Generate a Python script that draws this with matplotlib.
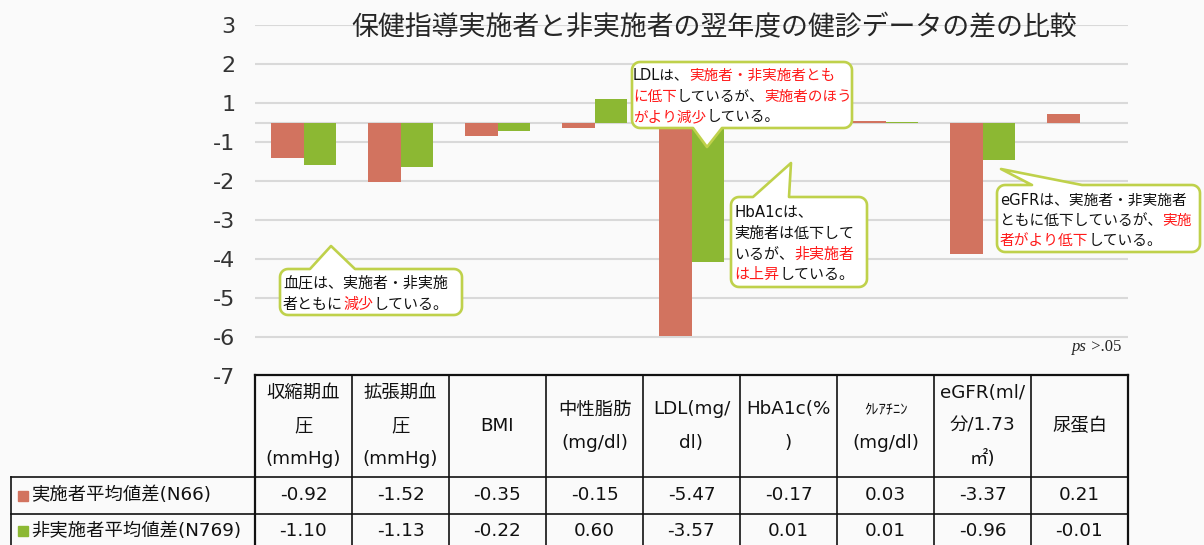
import numpy as np
import matplotlib
matplotlib.use("Agg")
import matplotlib.pyplot as plt
from matplotlib.patches import Polygon, Rectangle

# DejaVu first for the wide Verdana-like latin, CJK glyphs fall through
plt.rcParams['font.family'] = ['DejaVu Sans', 'Noto Sans CJK JP']

# data
title = "保健指導実施者と非実施者の翌年度の健診データの差の比較"
categories = ["収縮期血\n圧\n(mmHg)", "拡張期血\n圧\n(mmHg)", "BMI", "中性脂肪\n(mg/dl)",
              "LDL(mg/\ndl)", "HbA1c(%\n)", "ｸﾚｱﾁﾆﾝ\n(mg/dl)", "eGFR(ml/\n分/1.73\n㎡)", "尿蛋白"]
series_names = ["実施者平均値差(N66)", "非実施者平均値差(N769)"]
implementer = [-0.92, -1.52, -0.35, -0.15, -5.47, -0.17, 0.03, -3.37, 0.21]
non_implementer = [-1.10, -1.13, -0.22, 0.60, -3.57, 0.01, 0.01, -0.96, -0.01]
ytick_labels = ["3", "2", "1", "-1", "-2", "-3", "-4", "-5", "-6", "-7"]

red = "#d2735f"
green = "#8cb833"
hl = "#ff1a1a"
border = "#bfd14b"
bg = "#fafafa"

W, H = 1204, 545
fig = plt.figure(figsize=(W / 100, H / 100), dpi=100, facecolor=bg)

# main chart (pixel box 255..1128 x 25..376)
ax = fig.add_axes([255 / W, 1 - 376 / H, 873 / W, 351 / H])
ax.set_facecolor(bg)
x = np.arange(len(categories))
w = 0.33
ax.bar(x - w / 2, implementer, w, color=red, zorder=2)
ax.bar(x + w / 2, non_implementer, w, color=green, zorder=2)
ax.set_xlim(-0.5, len(categories) - 0.5)
ax.set_ylim(-6.5, 2.5)
ax.set_yticks(np.arange(2.5, -7, -1))
ax.set_yticklabels(ytick_labels)
ax.set_xticks([])
ax.tick_params(axis='y', length=0, pad=14, labelsize=16, labelcolor="#333333")
ax.yaxis.grid(True, color="#d9d9d9", lw=1.5)
ax.axhline(0, color="#d9d9d9", lw=1.5, zorder=1)
ax.set_axisbelow(True)
for s in ax.spines.values():
    s.set_visible(False)

# overlay in pixel coordinates
ov = fig.add_axes([0, 0, 1, 1], zorder=5)
ov.set_xlim(0, W)
ov.set_ylim(H, 0)
ov.axis('off')
ov.patch.set_visible(False)

ov.text(714, 28, title, fontsize=19.4, color="#262626", ha='center', va='center')

# ps > .05
t = ov.text(1072, 347, "ps", fontsize=12, family="Liberation Serif", style='italic',
            color="#222222", ha='left', va='center')
ov.annotate(" >.05", xy=(1, 0), xycoords=t, va='bottom', ha='left', fontsize=12,
            family="Liberation Serif", color="#222222")


def callout(box, edge, base, tip, r=8):
    x0, y0, x1, y1 = box
    pts = []

    def arc(cx, cy, a0, a1):
        for a in np.linspace(np.radians(a0), np.radians(a1), 8):
            pts.append((cx + r * np.cos(a), cy + r * np.sin(a)))

    arc(x0 + r, y0 + r, 180, 270)
    if edge == 'top':
        pts.extend([(base[0], y0), tip, (base[1], y0)])
    arc(x1 - r, y0 + r, 270, 360)
    arc(x1 - r, y1 - r, 0, 90)
    if edge == 'bottom':
        pts.extend([(base[1], y1), tip, (base[0], y1)])
    arc(x0 + r, y1 - r, 90, 180)
    ov.add_patch(Polygon(pts, closed=True, fc='white', ec=border, lw=1.9,
                         joinstyle='round', zorder=5))


def rich_line(xp, yp, parts, size=10.5):
    t = ov.text(xp, yp, parts[0][0], color=parts[0][1], fontsize=size,
                ha='left', va='center', zorder=6)
    for s, c in parts[1:]:
        t = ov.annotate(s, xy=(1, 0), xycoords=t, va='bottom', ha='left',
                        color=c, fontsize=size, zorder=6)


k = "#111111"
# blood pressure
callout((280, 269, 462, 315), 'top', (310, 355), (331, 246))
rich_line(283, 283, [("血圧は、実施者・非実施", k)], 10.8)
rich_line(283, 304, [("者ともに", k), ("減少", hl), ("している。", k)], 10.8)

# LDL
callout((632, 62, 852, 128), 'bottom', (693, 722), (707, 147))
rich_line(633, 75, [("LDLは、", k), ("実施者・非実施者とも", hl)])
rich_line(633, 96, [("に低下", hl), ("しているが、", k), ("実施者のほう", hl)])
rich_line(633, 117, [("がより減少", hl), ("している。", k)])

# HbA1c
callout((731, 197, 867, 287), 'top', (753, 789), (791, 163))
rich_line(734, 212, [("HbA1cは、", k)], 10.8)
rich_line(734, 233, [("実施者は低下して", k)], 10.8)
rich_line(734, 254, [("いるが、", k), ("非実施者", hl)], 10.8)
rich_line(734, 274, [("は上昇", hl), ("している。", k)], 10.8)

# eGFR
callout((997, 185, 1200, 252), 'top', (1032, 1082), (1001, 169))
rich_line(1000, 200, [("eGFRは、実施者・非実施者", k)], 10.6)
rich_line(1000, 220, [("ともに低下しているが、", k), ("実施", hl)], 10.6)
rich_line(1000, 240, [("者がより低下", hl), ("している。", k)], 10.6)

# data table
col_edges = np.linspace(255, 1128, len(categories) + 1)
top, head_bot, row_mid, bot = 375, 477, 514, 551
lc = "#111111"
ov.plot([col_edges[0], col_edges[-1]], [top, top], color=lc, lw=1.6)
ov.plot([11, col_edges[-1]], [head_bot, head_bot], color=lc, lw=1.2)
ov.plot([11, col_edges[-1]], [row_mid, row_mid], color=lc, lw=1.2)
ov.plot([11, col_edges[-1]], [bot, bot], color=lc, lw=1.2)
ov.plot([11, 11], [head_bot, bot], color=lc, lw=1.2)
for i, xe in enumerate(col_edges):
    ov.plot([xe, xe], [top, bot], color=lc, lw=1.6 if i in (0, len(col_edges) - 1) else 1.2)

for i, cat in enumerate(categories):
    cx = (col_edges[i] + col_edges[i + 1]) / 2
    lines = cat.split("\n")
    n = len(lines)
    for j, ln in enumerate(lines):
        yy = (top + head_bot) / 2 + (j - (n - 1) / 2) * 33
        fs = 10.5 if ln.startswith("ｸ") else 13.2
        ov.text(cx, yy, ln, fontsize=fs, ha='center', va='center', color=k)

rows = [implementer, non_implementer]
row_y = [(head_bot + row_mid) / 2, (row_mid + bot) / 2 - 2]
for name, vals, yy, c in zip(series_names, rows, row_y, [red, green]):
    ov.add_patch(Rectangle((18, yy - 5), 10, 10, color=c))
    ov.text(31, yy, name, fontsize=13.2, ha='left', va='center', color=k)
    for i, v in enumerate(vals):
        cx = (col_edges[i] + col_edges[i + 1]) / 2
        ov.text(cx, yy, f"{v:.2f}", fontsize=13.2, ha='center', va='center', color=k)

fig.savefig("out.png", dpi=100, facecolor=bg)
